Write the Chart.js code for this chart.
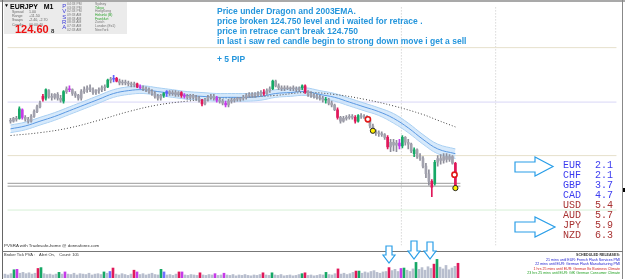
<!DOCTYPE html>
<html>
<head>
<meta charset="utf-8">
<script src="https://cdn.jsdelivr.net/npm/chart.js@4.4.0/dist/chart.umd.min.js"></script>
<style>
  body { margin: 0; background: #fff; }
  #wrap { position: relative; width: 625px; height: 279px; overflow: hidden; background: #fff; font-family: "Liberation Sans", Arial, sans-serif; }
  canvas { position: absolute; left: 0; }
  .t { position: absolute; white-space: pre; line-height: 1; }
  .note { color: #2596dc; font-weight: bold; font-size: 8.5px; left: 217px; }
  .cur { font-family: "Liberation Mono", "Courier New", monospace; font-size: 10px; line-height: 10px; }
  .blue { color: #3c3cf0; }
  .brown { color: #a83232; }
  .tiny { font-size: 3.6px; }
</style>
</head>
<body>
<div id="wrap">
  <canvas id="main" width="625" height="251" style="top:0"></canvas>
  <canvas id="vol" width="625" height="26" style="top:252px"></canvas>

  <!-- frame -->
  <div style="position:absolute;left:0;top:0;width:625px;height:2px;background:#a9a9a9"></div>
  <div style="position:absolute;left:2px;top:0;width:1px;height:279px;background:#666"></div>
  <div style="position:absolute;left:622px;top:0;width:1px;height:279px;background:#888"></div>
  <div style="position:absolute;left:2px;top:251px;width:621px;height:1px;background:#777"></div>
  <div style="position:absolute;left:623px;top:188px;width:2px;height:4px;background:#000"></div>

  <!-- info box -->
  <div style="position:absolute;left:4px;top:2px;width:123px;height:32px;background:#ebebeb"></div>
  <div class="t" style="left:4px;top:3px;font-size:5px">▼</div>
  <div class="t" style="left:10px;top:3px;font-size:7px;font-weight:bold">EURJPY   M1</div>
  <div class="t" style="left:12px;top:10px;font-size:3.6px;color:#666;line-height:4.2px">Spread
Range
Swaps
Candle</div>
  <div class="t" style="left:29px;top:10px;font-size:3.6px;color:#666;line-height:4.2px">1.00
+11.50
-2.40, -2.70
00:00:40</div>
  <div class="t" style="left:15px;top:24px;font-size:11px;font-weight:bold;color:#ee1111">124.60</div>
  <div class="t" style="left:51px;top:28px;font-size:6px;font-weight:bold;color:#333">8</div>
  <div class="t" style="left:62px;top:4px;font-size:6px;color:#3a3ad8;line-height:5.3px;text-align:center">P
V
S
R
A</div>
  <div class="t" style="left:67px;top:3px;font-size:3.4px;color:#777;line-height:3.65px">04:33 PM
03:33 PM
02:33 PM
09:33 AM
08:33 AM
08:33 AM
07:33 AM
02:33 AM</div>
  <div class="t" style="left:95px;top:3px;font-size:3.4px;line-height:3.65px;color:#777">Sydney
<span style="color:#2aa02a">Tokyo</span>
HongKong
<span style="color:#2aa02a">Helsinki (B)</span>
<span style="color:#2aa02a">Frankfurt</span>
Zurich
London (Ex1)
NewYork</div>

  <!-- notes -->
  <div class="t note" style="top:7px">Price under Dragon and 2003EMA.</div>
  <div class="t note" style="top:17px">price broken 124.750 level and i waited for retrace .</div>
  <div class="t note" style="top:27px">price in retrace can't break 124.750</div>
  <div class="t note" style="top:37px">in last i saw red candle begin to strong down move i get a sell</div>
  <div class="t note" style="top:55px">+ 5 PIP</div>

  <!-- currency strength -->
  <div class="t cur" style="left:563px;top:161px"><span class="blue">EUR
CHF
GBP
CAD</span>
<span class="brown">USD
AUD
JPY
NZD</span></div>
  <div class="t cur" style="left:595px;top:161px"><span class="blue">2.1
2.1
3.7
4.7</span>
<span class="brown">5.4
5.7
5.9
6.3</span></div>

  <!-- arrows -->
  <svg style="position:absolute;left:0;top:0" width="625" height="279">
    <g fill="#fff" stroke="#2a9ee8" stroke-width="1.2">
      <polygon points="515,162 535,162 535,157 553,166.5 535,176 535,172 515,172"/>
      <polygon points="515,222 535,222 535,217 555,227 535,237 535,232 515,232"/>
      <polygon points="386,246 392,246 392,255 395,255 389,263 383,255 386,255"/>
      <polygon points="411,241 417,241 417,251 420,251 414,259 408,251 411,251"/>
      <polygon points="427,242 433,242 433,251 436,251 430,259 424,251 427,251"/>
    </g>
  </svg>

  <div class="t" style="left:4px;top:244px;font-size:4.4px;color:#333">PVSRA with Tradesafe-home @ donnaforex.com</div>
  <div class="t" style="left:4px;top:253px;font-size:4px;color:#333">Broker Tick PVA :    Alert On,    Count: 105</div>

  <div class="t tiny" style="right:5px;top:253px;text-align:right;line-height:4.6px;font-weight:bold;color:#333">SCHEDULED RELEASES:</div>
  <div class="t tiny" style="right:5px;top:258px;text-align:right;line-height:4.4px"><span style="color:#2020d0">21 mins until EUR: French Flash Services PMI
22 mins until EUR: German Flash Manufacturing PMI</span>
<span style="color:#d02020">1 hrs 25 mins until EUR: German Ifo Business Climate</span>
<span style="color:#20a020">23 hrs 25 mins until EUR: GfK German Consumer Climate</span></div>
</div>

<script>
// EURJPY M1 candles, oldest first
const opens = [124.712,124.710,124.716,124.716,124.734,124.718,124.714,124.710,124.720,124.730,
  124.740,124.762,124.758,124.774,124.762,124.760,124.766,124.758,124.752,124.772,
  124.778,124.776,124.768,124.764,124.758,124.772,124.776,124.780,124.776,124.770,
  124.774,124.776,124.780,124.782,124.796,124.798,124.800,124.794,124.790,124.792,
  124.790,124.788,124.786,124.788,124.782,124.780,124.778,124.776,124.772,124.768,
  124.762,124.758,124.764,124.768,124.772,124.768,124.770,124.766,124.770,124.764,
  124.762,124.760,124.764,124.760,124.758,124.754,124.746,124.756,124.760,124.762,
  124.758,124.754,124.752,124.748,124.744,124.752,124.754,124.756,124.758,124.758,
  124.760,124.764,124.766,124.764,124.768,124.766,124.770,124.768,124.774,124.778,
  124.794,124.784,124.780,124.778,124.780,124.778,124.780,124.778,124.776,124.780,
  124.784,124.772,124.766,124.764,124.762,124.760,124.758,124.754,124.756,124.748,
  124.744,124.734,124.718,124.710,124.716,124.718,124.720,124.718,124.710,124.722,
  124.720,124.718,124.712,124.700,124.690,124.686,124.684,124.682,124.676,124.656,
  124.666,124.660,124.664,124.658,124.676,124.666,124.662,124.642,124.650,124.636,
  124.632,124.616,124.600,124.584,124.580,124.624,124.632,124.628,124.636,124.630,
  124.636,124.622];
const highs = [124.716,124.718,124.720,124.740,124.736,124.722,124.718,124.724,124.734,124.744,
  124.752,124.766,124.778,124.776,124.768,124.768,124.770,124.764,124.774,124.782,
  124.784,124.778,124.772,124.766,124.776,124.782,124.784,124.786,124.780,124.776,
  124.780,124.784,124.786,124.798,124.802,124.806,124.802,124.798,124.796,124.796,
  124.794,124.792,124.792,124.790,124.786,124.784,124.782,124.780,124.776,124.772,
  124.766,124.766,124.770,124.774,124.774,124.774,124.774,124.772,124.772,124.768,
  124.766,124.766,124.766,124.764,124.762,124.756,124.758,124.764,124.766,124.766,
  124.762,124.760,124.756,124.752,124.756,124.758,124.758,124.760,124.760,124.764,
  124.768,124.770,124.770,124.770,124.772,124.774,124.776,124.778,124.782,124.796,
  124.796,124.788,124.784,124.784,124.784,124.782,124.784,124.782,124.782,124.786,
  124.786,124.774,124.772,124.768,124.766,124.764,124.762,124.760,124.758,124.752,
  124.746,124.738,124.720,124.720,124.722,124.724,124.724,124.722,124.724,124.726,
  124.724,124.722,124.714,124.704,124.692,124.690,124.688,124.684,124.680,124.672,
  124.672,124.670,124.672,124.680,124.678,124.672,124.664,124.654,124.652,124.642,
  124.636,124.622,124.608,124.588,124.628,124.638,124.640,124.642,124.642,124.640,
  124.638,124.624];
const lows = [124.706,124.708,124.710,124.714,124.714,124.710,124.706,124.708,124.718,124.728,
  124.738,124.752,124.754,124.758,124.754,124.756,124.754,124.750,124.748,124.768,
  124.772,124.764,124.760,124.754,124.754,124.768,124.770,124.772,124.766,124.766,
  124.768,124.772,124.774,124.780,124.790,124.792,124.792,124.786,124.786,124.786,
  124.784,124.782,124.782,124.780,124.778,124.774,124.772,124.768,124.764,124.758,
  124.754,124.754,124.760,124.762,124.764,124.764,124.762,124.762,124.760,124.758,
  124.756,124.756,124.756,124.754,124.750,124.742,124.744,124.752,124.756,124.754,
  124.750,124.748,124.744,124.740,124.740,124.748,124.750,124.752,124.752,124.754,
  124.756,124.760,124.760,124.760,124.762,124.762,124.764,124.766,124.770,124.776,
  124.782,124.776,124.774,124.774,124.776,124.774,124.774,124.772,124.772,124.776,
  124.768,124.762,124.760,124.758,124.756,124.754,124.750,124.748,124.744,124.740,
  124.732,124.714,124.706,124.708,124.712,124.714,124.714,124.706,124.708,124.716,
  124.716,124.710,124.696,124.686,124.680,124.678,124.678,124.672,124.652,124.646,
  124.648,124.646,124.652,124.654,124.660,124.652,124.644,124.636,124.632,124.628,
  124.612,124.592,124.576,124.552,124.576,124.616,124.620,124.622,124.624,124.626,
  124.620,124.570];
const closes = [124.710,124.716,124.714,124.736,124.718,124.714,124.710,124.720,124.730,124.740,
  124.748,124.756,124.776,124.762,124.760,124.766,124.758,124.754,124.772,124.778,
  124.776,124.768,124.764,124.758,124.772,124.776,124.780,124.776,124.770,124.774,
  124.776,124.780,124.782,124.796,124.798,124.800,124.794,124.790,124.792,124.790,
  124.788,124.786,124.788,124.782,124.780,124.778,124.776,124.772,124.768,124.762,
  124.758,124.764,124.768,124.772,124.768,124.770,124.766,124.770,124.764,124.762,
  124.760,124.764,124.760,124.758,124.754,124.746,124.756,124.760,124.762,124.758,
  124.754,124.752,124.748,124.744,124.752,124.754,124.756,124.758,124.756,124.760,
  124.764,124.766,124.764,124.768,124.766,124.770,124.768,124.774,124.778,124.794,
  124.784,124.780,124.778,124.780,124.778,124.780,124.778,124.776,124.780,124.784,
  124.772,124.766,124.764,124.762,124.760,124.758,124.754,124.756,124.748,124.744,
  124.734,124.718,124.710,124.716,124.718,124.720,124.718,124.710,124.722,124.720,
  124.718,124.712,124.700,124.690,124.686,124.684,124.682,124.676,124.656,124.666,
  124.660,124.664,124.658,124.676,124.666,124.662,124.648,124.650,124.636,124.632,
  124.616,124.600,124.584,124.572,124.624,124.632,124.628,124.636,124.630,124.636,
  124.622,124.572];
const volumes = [18,14,20,38,40,22,26,20,24,18,
  22,44,48,20,16,18,14,18,26,18,
  28,18,16,22,14,20,18,16,22,14,
  18,20,16,28,22,30,46,18,14,20,
  16,12,18,36,28,16,20,14,18,22,
  16,14,40,28,14,16,12,18,28,28,
  14,12,16,14,12,24,14,12,16,14,
  20,12,14,22,14,12,16,10,14,12,
  16,12,10,14,12,16,24,14,12,24,
  14,12,16,10,12,14,10,12,16,20,
  24,12,14,10,12,16,14,26,16,14,
  20,42,18,22,16,20,26,32,32,22,
  28,24,30,34,26,22,28,30,48,34,
  40,30,44,46,36,30,42,72,40,48,
  36,52,44,64,86,50,42,58,38,46,
  54,68];

// PVSRA bar classes (candle indices)
const climaxUp = [3,12,18,33,52,89,99,107,118,133,137,144];
const climaxDown = [11,36,43,58,65,86,100,111,117,128,143,151];
const risingUp = [35,53];
const risingDown = [4,20,44,59,70,73,132];

// Dragon band (EMA 34 high / close / low) and EMA 200, read at these candles
const maIndex = [0,5,10,15,20,25,30,35,40,45,50,55,60,65,70,75,80,85,90,95,100,105,110,115,120,125,130,135,140,145,151];
const dragonHigh = [124.702,124.708,124.718,124.728,124.740,124.752,124.764,124.776,124.782,124.784,124.780,124.776,124.772,124.770,124.768,124.768,124.768,124.770,124.776,124.778,124.780,124.774,124.768,124.758,124.748,124.738,124.726,124.706,124.682,124.662,124.652];
const dragonMid = [124.694,124.700,124.710,124.720,124.732,124.744,124.756,124.768,124.774,124.776,124.772,124.768,124.764,124.762,124.760,124.760,124.760,124.762,124.768,124.770,124.772,124.766,124.760,124.750,124.740,124.730,124.716,124.696,124.672,124.652,124.642];
const dragonLow = [124.686,124.692,124.702,124.712,124.724,124.736,124.748,124.760,124.766,124.768,124.764,124.760,124.756,124.754,124.752,124.752,124.752,124.754,124.760,124.762,124.764,124.758,124.752,124.742,124.732,124.722,124.706,124.686,124.662,124.642,124.632];
const emaIndex = [0,10,20,30,40,50,60,70,80,90,100,110,120,130,140,145,151];
const ema200 = [124.680,124.686,124.696,124.712,124.730,124.744,124.752,124.758,124.760,124.764,124.770,124.766,124.756,124.742,124.724,124.712,124.698];

// horizontal levels and trade lines
const levels = [124.864, 124.750, 124.638, 124.524];
const tradeLines = [124.580, 124.574];
const periodSeparators = [132.67, 164.67];

// trade markers [candle position, price]
const entryMarks = [[121.3, 124.714], [150.7, 124.598]];
const exitMarks = [[123, 124.690], [151, 124.570]];

const X_MIN = -5 / 3, X_MAX = X_MIN + 625 / 3;
const Y_MIN = 124.450, Y_MAX = 124.952;

const colorCode = i => climaxUp.includes(i) ? 'up' : climaxDown.includes(i) ? 'down'
  : risingUp.includes(i) ? 'rup' : risingDown.includes(i) ? 'rdown' : 'n';
const candleCol = { up: '#16a866', down: '#e0185a', rup: '#6060ff', rdown: '#c63ae8', n: '#8e8e9a' };
const bodyCol = { up: '#16a866', down: '#e0185a', rup: '#6060ff', rdown: '#c63ae8', n: '#a2a2ae' };
const volCol = { up: '#16a866', down: '#e0185a', rup: '#7070ff', rdown: '#c63ae8', n: '#b8bece' };
const codes = closes.map((c, i) => colorCode(i));

const levelColors = ['#e6e0cc', '#d8d6f6', '#e6e0cc', '#d6f0d6'];

const datasets = [];
levels.forEach((p, k) => datasets.push({
  type: 'line', data: [{ x: -1, y: p }, { x: 205.67, y: p }],
  borderColor: levelColors[k], borderWidth: 1, pointRadius: 0, order: 20
}));
tradeLines.forEach(p => datasets.push({
  type: 'line', data: [{ x: -1, y: p }, { x: 152.7, y: p }],
  borderColor: '#9a9a9a', borderWidth: 1, pointRadius: 0, order: 19
}));
periodSeparators.forEach(x => datasets.push({
  type: 'line', data: [{ x: x, y: Y_MIN }, { x: x, y: Y_MAX }],
  borderColor: '#c4c4c4', borderWidth: 1, borderDash: [1, 2], pointRadius: 0, order: 21
}));
datasets.push({
  type: 'line', data: maIndex.map((x, k) => ({ x: x, y: dragonHigh[k] })),
  borderColor: '#a8cff2', borderWidth: 1, pointRadius: 0, tension: 0.4,
  fill: '+1', backgroundColor: 'rgba(186,218,248,0.6)', order: 12
});
datasets.push({
  type: 'line', data: maIndex.map((x, k) => ({ x: x, y: dragonLow[k] })),
  borderColor: '#a8cff2', borderWidth: 1, pointRadius: 0, tension: 0.4, fill: false, order: 12
});
datasets.push({
  type: 'line', data: maIndex.map((x, k) => ({ x: x, y: dragonMid[k] })),
  borderColor: '#5a98e2', borderWidth: 1, pointRadius: 0, tension: 0.4, fill: false, order: 11
});
datasets.push({
  type: 'line', data: emaIndex.map((x, k) => ({ x: x, y: ema200[k] })),
  borderColor: '#444', borderWidth: 1, borderDash: [1, 2], pointRadius: 0, tension: 0.4, fill: false, order: 11
});
datasets.push({
  type: 'bar', data: highs.map((h, i) => ({ x: i, y: [lows[i], h] })),
  backgroundColor: codes.map(c => candleCol[c]), barThickness: 1, grouped: false, order: 6
});
datasets.push({
  type: 'bar', data: opens.map((o, i) => ({ x: i, y: [o, closes[i]] })),
  backgroundColor: codes.map(c => bodyCol[c]), barThickness: 2, grouped: false, order: 5
});
datasets.push({
  type: 'line', data: entryMarks.map(m => ({ x: m[0], y: m[1] })), showLine: false,
  pointRadius: 2.6, pointBackgroundColor: '#fff', pointBorderColor: '#e01818', pointBorderWidth: 1.6, order: 1
});
datasets.push({
  type: 'line', data: exitMarks.map(m => ({ x: m[0], y: m[1] })), showLine: false,
  pointRadius: 2.6, pointBackgroundColor: '#ffee00', pointBorderColor: '#222', pointBorderWidth: 1, order: 0
});

const common = {
  responsive: false, animation: false, events: [],
  layout: { padding: 0 },
  plugins: { legend: { display: false }, tooltip: { enabled: false } }
};

new Chart(document.getElementById('main'), {
  type: 'bar',
  data: { datasets: datasets },
  options: Object.assign({}, common, {
    scales: {
      x: { type: 'linear', min: X_MIN, max: X_MAX, offset: false, display: false },
      y: { min: Y_MIN, max: Y_MAX, display: false }
    }
  })
});

new Chart(document.getElementById('vol'), {
  type: 'bar',
  data: {
    datasets: [{
      data: volumes.map((v, i) => ({ x: i, y: v })),
      backgroundColor: codes.map(c => volCol[c]), barThickness: 2
    }]
  },
  options: Object.assign({}, common, {
    scales: {
      x: { type: 'linear', min: X_MIN, max: X_MAX, offset: false, display: false },
      y: { min: 0, max: 120, display: false }
    }
  })
});
</script>
</body>
</html>
